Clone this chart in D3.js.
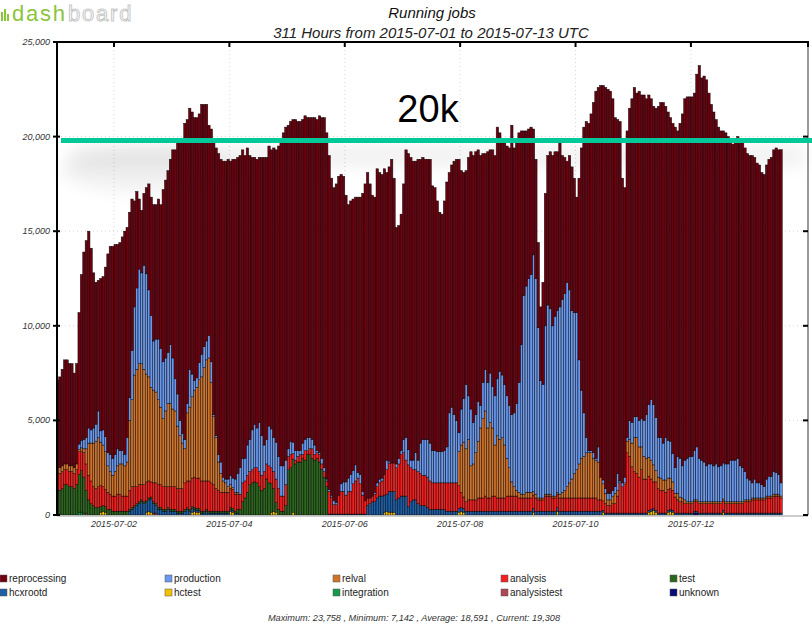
<!DOCTYPE html>
<html>
<head>
<meta charset="utf-8">
<script src="https://cdn.jsdelivr.net/npm/d3@7"></script>
<style>
  body { margin: 0; background: #fff; }
  svg text { font-family: "Liberation Sans", Arial, sans-serif; }
</style>
</head>
<body>
<div id="chart"></div>
<script>
// hourly bins, first bin = 2015-07-01 00:00 UTC
const firstHour = Date.UTC(2015, 6, 1);
const dateTicks = ["2015-07-02", "2015-07-04", "2015-07-06", "2015-07-08", "2015-07-10", "2015-07-12"];
const yTicks = [0, 5000, 10000, 15000, 20000, 25000];

// top of each stacked bar (all job types)
const totalJobs = [
  7142,7300,7700,8200,8200,8000,8000,7500,8000,10700,
  12700,13900,14500,15000,14100,12800,12300,12400,12500,12600,
  13100,13800,14200,14200,14300,14300,14400,14700,15000,15200,
  16000,16700,16600,17100,16700,16100,17000,17300,17500,16800,
  16400,16400,16700,16400,17200,17700,18200,18800,19300,19300,
  19700,19800,19900,20700,20900,21500,21300,21000,21000,21200,
  21700,21700,21700,20600,20400,19700,19400,19100,18800,18700,
  18700,18800,18700,18800,18800,18900,19000,19300,19000,19400,
  19000,18900,18900,18800,18900,18900,18900,18900,19500,19300,
  19400,19300,19500,19700,20200,20500,20600,20800,20900,20900,
  20800,20800,20900,21100,21000,21000,21000,21000,20900,21100,
  21000,21000,20200,19000,17800,17300,17500,17900,18000,17900,
  16900,16400,16600,16700,16800,16800,16800,17000,17500,18100,
  17500,16900,16800,18300,18100,18000,18300,18100,18400,18800,
  17800,15200,15300,15900,17500,19300,19100,18900,18700,18700,
  18800,18800,18900,18800,18800,18800,17400,17300,16600,16000,
  15900,16600,17600,18100,18500,18700,18800,18800,18200,18100,
  18200,18900,19200,19000,19200,19300,19000,19100,19100,19200,
  19300,19300,19000,20500,20200,19800,19700,19500,19400,20600,
  19400,19700,20200,20300,20300,20300,20400,20500,20400,18800,
  14400,11000,12300,17000,19000,19200,19000,19200,19200,19700,
  19000,18900,18700,19000,18400,17800,16800,17800,19400,20500,
  20800,20700,21200,21800,22400,22600,22700,22700,22600,22500,
  22400,22000,21000,20900,20800,17800,17300,20300,21500,22000,
  22600,22300,22400,22200,22200,22000,22200,22000,21600,21500,
  21600,21800,21800,21600,21300,21000,20700,20500,20300,20700,
  21200,22000,22100,22100,22100,22300,23300,23758,23100,23200,
  23000,22300,21700,21300,20900,20500,20300,20300,20200,20000,
  19900,19600,19900,20000,19700,19700,19400,19100,19000,19000,
  18900,18600,18500,18100,18000,18500,18800,18900,19300,19400,
  19300,19308
];

const production = [
  0,0,0,0,0,0,0,0,0,300,
  400,500,600,800,700,800,900,1400,600,800,
  800,700,900,900,900,900,700,700,600,1300,
  1200,2600,3600,4300,5000,4800,5500,5300,4600,3800,
  2600,2800,3200,3100,3000,2800,2700,3100,2700,1700,
  1700,800,500,500,500,2000,1200,500,500,900,
  1200,1100,1000,1200,1100,100,100,400,600,200,
  200,400,500,500,700,1000,1400,1300,1200,1600,
  1700,2100,2300,2100,2600,2100,1400,1300,2100,2050,
  1800,1950,1700,1600,1600,1300,400,700,600,500,
  300,200,600,600,700,600,500,500,100,100,
  300,200,100,100,100,200,100,0,400,500,
  700,700,900,700,850,300,500,200,0,0,
  0,0,100,200,200,150,0,500,100,0,
  0,200,300,200,700,1200,800,400,500,900,
  600,1600,1900,1900,2000,2000,1700,1700,1650,1650,
  1650,1700,1900,3700,4000,3600,3300,1000,1900,2300,
  3400,2300,3000,2200,2000,2100,1200,1900,2200,2400,
  2600,2200,2600,3000,3600,3300,3200,3300,3300,3550,
  3900,4600,5800,7900,10500,10900,11300,11500,12500,11400,
  9000,6200,6000,8900,10000,9800,9000,9500,9600,9900,
  10200,10400,10800,10200,8900,8500,8300,5500,3600,2300,
  800,100,100,300,100,800,0,200,250,350,
  350,300,350,900,100,200,300,200,1000,1100,
  1100,1100,1400,1500,1900,2300,2800,3200,3200,2800,
  2100,2150,1950,2250,2000,1950,1500,1350,1950,2050,
  1700,2100,2300,2400,2400,2600,2800,2300,2200,2100,
  1900,2000,2000,1900,2000,1850,1900,1900,2000,2000,
  2200,2200,2200,2300,1900,1800,1500,1150,1050,800,
  1000,800,800,700,600,900,1050,1050,1200,1150,
  1050,700
];

const relval = [
  300,300,300,300,300,300,300,300,300,100,
  200,200,800,1700,2000,2300,2500,2600,2300,2200,
  2000,1400,1200,1100,1300,1500,1600,1700,1600,1800,
  3700,4600,5900,6200,6400,6400,6100,5700,5500,5000,
  4900,4800,4500,4100,3600,4000,4400,4400,4100,4000,
  3300,2800,2400,1800,3600,3900,4300,4600,4800,5200,
  5500,6000,6400,6500,5300,3600,2700,1500,1000,600,
  500,300,200,100,100,100,0,0,0,0,
  0,0,0,0,0,0,0,0,0,0,
  0,0,0,0,0,0,0,0,0,0,
  0,0,0,0,0,0,0,0,0,0,
  0,0,0,0,0,0,0,0,0,0,
  0,0,0,0,0,0,0,0,0,0,
  0,0,0,0,0,0,0,0,0,0,
  0,0,0,0,0,0,0,0,0,0,
  0,0,0,0,0,0,0,0,0,0,
  0,0,0,0,0,0,0,1800,2500,2900,
  2800,3200,1800,1900,2500,3000,3700,4200,4500,3700,
  4000,3600,2700,3300,3100,3200,2800,2000,1500,750,
  500,300,300,200,200,300,300,300,200,200,
  100,100,100,100,100,100,100,100,100,200,
  300,400,600,800,1000,1300,1500,1800,2100,2200,
  2400,2400,2400,2100,2000,2000,1200,900,550,300,
  300,400,550,300,0,0,100,600,900,1250,
  1800,1900,1600,1200,1200,1100,1000,1000,900,600,
  600,650,550,650,600,550,450,200,350,250,
  200,200,100,100,100,100,100,100,100,100,
  100,100,100,100,100,100,100,100,100,100,
  100,100,100,100,100,100,100,100,100,100,
  100,100,100,100,100,100,100,100,100,100,
  100,100
];

const analysis = [
  1000,900,900,800,800,800,800,800,800,1200,
  1000,1300,1400,1300,1200,1000,1000,1100,1100,1000,
  900,900,800,800,800,900,900,800,800,800,
  1000,1100,1000,900,900,800,900,1000,900,800,
  1000,1100,1200,1200,1200,1200,1100,1200,1200,1200,
  1200,1200,1200,1400,1400,1500,1500,1600,1600,1600,
  1600,1600,1500,1600,1500,1400,1200,1100,1000,1000,
  1000,1000,1000,1000,900,800,800,1000,900,900,
  700,700,750,800,800,800,900,800,900,850,
  900,1250,1100,800,800,1100,700,700,300,200,
  300,400,200,500,200,300,500,300,300,400,
  300,300,300,1200,900,500,500,1000,1200,1200,
  1000,1200,1200,1600,1750,1900,1600,1000,700,400,
  300,300,400,600,700,800,1100,1300,1500,1500,
  1500,1700,1800,2200,2300,1900,2200,1800,1600,1600,
  1700,1700,1600,1600,1600,1500,1400,1400,1400,1400,
  1400,1400,1500,1500,1500,1500,1500,1200,800,600,
  500,600,600,600,600,700,700,700,800,700,
  700,800,800,700,700,700,700,800,800,800,
  800,800,700,700,700,700,700,700,700,700,
  600,600,600,800,800,800,700,700,700,700,
  700,700,700,700,700,700,700,700,700,700,
  700,700,700,700,700,600,600,500,500,400,
  400,500,500,900,1600,1400,1500,3200,3000,2450,
  2200,2100,1900,2300,1800,1800,1800,1600,1400,1500,
  1300,1200,1200,1100,1100,1100,1050,850,700,600,
  600,500,500,500,500,500,500,500,500,500,
  500,500,500,500,500,500,500,500,500,500,
  500,500,500,500,500,500,600,600,600,700,
  700,700,700,700,700,800,800,800,900,900,
  900,800
];

// test jobs only ran in the first 113 hours
const test = [
  1300,1300,1400,1600,1600,1500,1500,1400,1600,2000,
  2200,1900,1200,800,600,500,400,400,300,300,
  300,300,300,200,200,200,200,200,200,200,
  100,100,100,100,100,100,100,100,100,100,
  100,100,100,100,100,100,100,100,100,100,
  100,100,100,100,100,100,100,100,100,100,
  100,100,100,100,100,100,100,100,100,100,
  100,100,100,100,100,200,300,700,900,1200,
  1600,1700,1750,1700,1500,1300,1400,1900,1700,1500,
  1200,500,300,200,200,500,2400,2500,2800,2700,
  2800,2800,3000,2900,3200,3200,3000,2900,3000,2800,
  2400,2000,1500
];

const hcxrootd = [
  0,0,0,0,0,0,0,0,0,0,
  0,0,0,0,0,0,0,0,0,0,
  0,0,0,0,0,0,0,0,0,0,
  200,300,400,500,600,700,600,500,600,700,
  500,400,300,300,200,200,300,200,200,200,
  100,100,100,200,300,200,200,100,100,100,
  100,100,200,100,100,100,100,100,100,100,
  100,100,100,100,100,100,0,0,0,0,
  0,0,0,0,0,0,0,0,0,0,
  0,0,0,0,0,0,0,0,0,0,
  0,0,0,0,0,0,0,0,0,0,
  0,0,0,50,50,50,50,50,50,50,
  50,50,50,50,50,50,50,50,50,500,
  600,700,700,900,1000,1000,900,900,1100,1100,
  1100,800,900,1000,1000,1000,450,700,800,800,
  600,500,500,500,400,300,300,300,300,300,
  300,300,200,200,200,200,200,200,200,200,
  200,200,200,200,200,200,200,200,200,200,
  200,200,200,200,200,200,200,200,200,200,
  200,200,200,200,200,200,200,200,200,200,
  200,200,200,200,200,200,200,200,200,200,
  200,200,200,200,200,200,200,200,200,200,
  200,200,200,200,200,200,200,100,100,100,
  100,100,100,100,100,100,100,100,100,100,
  100,100,100,100,100,100,100,100,100,100,
  100,100,100,100,100,100,100,100,100,100,
  100,100,100,100,100,100,100,100,100,100,
  100,100,100,100,100,100,100,100,100,100,
  100,100,100,100,100,100,100,100,100,100,
  100,100,100,100,100,100,100,100,100,100,
  100,100
];

// small series: [hour index, jobs]
const hctest = [[18,150],[19,200],[20,150],[37,150],[38,200],[39,150],[56,150],[57,200],[58,150],
  [59,150],[72,200],[73,150],[89,150],[90,200],[91,150],[98,150],[136,150],[137,200],[138,150],
  [139,150],[140,150],[167,150],[168,200],[169,150],[198,150],[208,200],[227,150],[246,150],
  [247,200],[248,250],[249,150],[254,150],[255,200],[256,150],[277,150]];
const integration = [[9,150],[10,150],[11,100]];
const analysistest = [[12,100],[40,100],[41,100]];
const unknown = [[265,100],[266,100]];

const legendItems = [
  { key: "reprocessing", color: "#6e000f" },
  { key: "production", color: "#6a98ec" },
  { key: "relval", color: "#d0742c" },
  { key: "analysis", color: "#f42020" },
  { key: "test", color: "#2c661e" },
  { key: "hcxrootd", color: "#1c5ea8" },
  { key: "hctest", color: "#f2c200" },
  { key: "integration", color: "#17994a" },
  { key: "analysistest", color: "#b04458" },
  { key: "unknown", color: "#0a0a78" }
];
const summaryText = "Maximum: 23,758 , Minimum: 7,142 , Average: 18,591 , Current: 19,308";

const width = 812, height = 628;
const plot = { left: 57, right: 808, top: 42, bottom: 515 };

function spikes(list) {
  const m = new Map(list);
  return (i) => m.get(i) || 0;
}

// build one row per hour
const hcT = spikes(hctest), intT = spikes(integration), atT = spikes(analysistest), unT = spikes(unknown);
const rows = totalJobs.map((tot, i) => {
  const r = {
    hour: i,
    unknown: unT(i),
    analysistest: atT(i),
    integration: intT(i),
    hctest: hcT(i),
    hcxrootd: hcxrootd[i] || 0,
    test: test[i] || 0,
    analysis: analysis[i] || 0,
    relval: relval[i] || 0,
    production: production[i] || 0
  };
  const others = r.unknown + r.analysistest + r.integration + r.hctest + r.hcxrootd +
    r.test + r.analysis + r.relval + r.production;
  r.reprocessing = Math.max(0, tot - others);
  return r;
});

const stackKeys = legendItems.map(d => d.key).reverse();
const colorOf = Object.fromEntries(legendItems.map(d => [d.key, d.color]));
const series = d3.stack().keys(stackKeys)(rows);

const svg = d3.select("#chart").append("svg")
  .attr("width", width).attr("height", height);

const x = d3.scaleUtc()
  .domain([new Date(firstHour), new Date(Date.UTC(2015, 6, 14))])
  .range([56.3, 806.3]);
const y = d3.scaleLinear().domain([0, 25000]).range([plot.bottom, plot.top]);
const hourX = (i) => x(new Date(firstHour + i * 3600e3));

// logo
const logo = svg.append("g");
[[1, 9], [4, 12], [7, 7]].forEach(([lx, lh]) => {
  logo.append("rect").attr("x", lx).attr("y", 21 - lh).attr("width", 2).attr("height", lh).attr("fill", "#8cc43c");
});
const dash = logo.append("text").attr("x", 12).attr("y", 21)
  .style("font-size", "22px").style("letter-spacing", "1.8px")
  .attr("fill", "#8cc43c").text("dash");
logo.append("text").attr("x", 12 + dash.node().getComputedTextLength() + 1).attr("y", 21)
  .style("font-size", "22px").style("letter-spacing", "1.8px")
  .attr("fill", "#fff").attr("stroke", "#c8c8c8").attr("stroke-width", 1).text("board");

// titles
svg.append("text").attr("x", 432).attr("y", 18).attr("text-anchor", "middle")
  .style("font-style", "italic").style("font-size", "15px")
  .attr("fill", "#111").text("Running jobs");
svg.append("text").attr("x", 431).attr("y", 38).attr("text-anchor", "middle")
  .style("font-style", "italic").style("font-size", "15px")
  .attr("fill", "#222").text("311 Hours from 2015-07-01 to 2015-07-13 UTC");

// grid
const grid = svg.append("g").attr("stroke", "#d8d8d8").attr("stroke-dasharray", "1,3");
yTicks.slice(1, -1).forEach(v => {
  grid.append("line").attr("x1", plot.left).attr("x2", plot.right).attr("y1", y(v)).attr("y2", y(v));
});
dateTicks.forEach(t => {
  const tx = x(new Date(t + "T00:00:00Z"));
  grid.append("line").attr("x1", tx).attr("x2", tx).attr("y1", plot.top).attr("y2", plot.bottom);
});

// soft shadow under the 20k marker (sits behind the bars)
const defs = svg.append("defs");
defs.append("filter").attr("id", "blur").attr("x", "-20%").attr("y", "-100%").attr("width", "140%").attr("height", "300%")
  .append("feGaussianBlur").attr("stdDeviation", 9);
svg.append("rect").attr("x", 70).attr("y", 146).attr("width", 735).attr("height", 20)
  .attr("fill", "#000").attr("opacity", 0.06).attr("filter", "url(#blur)");
svg.append("ellipse").attr("cx", 150).attr("cy", 170).attr("rx", 90).attr("ry", 22)
  .attr("fill", "#000").attr("opacity", 0.06).attr("filter", "url(#blur)");

// stacked bars
svg.append("g").selectAll("g")
  .data(series)
  .join("g")
  .attr("fill", d => colorOf[d.key])
  .selectAll("rect")
  .data(d => d.filter(s => s[1] > s[0]))
  .join("rect")
  .attr("x", d => hourX(d.data.hour))
  .attr("width", d => hourX(d.data.hour + 1) - hourX(d.data.hour))
  .attr("y", d => y(d[1]))
  .attr("height", d => y(d[0]) - y(d[1]))
  .attr("stroke", "#000")
  .attr("stroke-width", 0.55)
  .attr("stroke-opacity", 0.85);

// frame
svg.append("line").attr("x1", plot.left).attr("x2", plot.right).attr("y1", plot.bottom + 1).attr("y2", plot.bottom + 1)
  .attr("stroke", "#bbb").attr("stroke-width", 1.5);
svg.append("line").attr("x1", plot.left).attr("x2", plot.right + 1).attr("y1", plot.top).attr("y2", plot.top)
  .attr("stroke", "#000").attr("stroke-width", 2);
svg.append("line").attr("x1", plot.left).attr("x2", plot.left).attr("y1", plot.top).attr("y2", plot.bottom + 1)
  .attr("stroke", "#000").attr("stroke-width", 2);
svg.append("line").attr("x1", plot.right).attr("x2", plot.right).attr("y1", plot.top).attr("y2", plot.bottom)
  .attr("stroke", "#555").attr("stroke-width", 1.2);

// y axis labels + ticks on both sides
const axisText = svg.append("g")
  .style("font-style", "italic").style("font-size", "9px").attr("fill", "#333");
yTicks.forEach(v => {
  axisText.append("text").attr("x", 50).attr("y", y(v) + 3).attr("text-anchor", "end")
    .text(d3.format(",")(v));
  svg.append("line").attr("x1", plot.left - 4).attr("x2", plot.left + 3).attr("y1", y(v)).attr("y2", y(v))
    .attr("stroke", "#000").attr("stroke-width", 2);
  svg.append("line").attr("x1", plot.right - 5).attr("x2", plot.right).attr("y1", y(v)).attr("y2", y(v))
    .attr("stroke", "#000").attr("stroke-width", 2);
});

// x axis labels + ticks on the top edge
dateTicks.forEach(t => {
  const tx = x(new Date(t + "T00:00:00Z"));
  axisText.append("text").attr("x", tx).attr("y", 527).attr("text-anchor", "middle").text(t);
  svg.append("line").attr("x1", tx).attr("x2", tx).attr("y1", plot.top).attr("y2", plot.top + 5)
    .attr("stroke", "#000").attr("stroke-width", 2);
});
svg.append("line").attr("x1", plot.right).attr("x2", plot.right).attr("y1", plot.top).attr("y2", plot.top + 5)
  .attr("stroke", "#000").attr("stroke-width", 2);

// 20k marker
svg.append("line").attr("x1", 61).attr("x2", 812).attr("y1", y(19800)).attr("y2", y(19800))
  .attr("stroke", "#00c999").attr("stroke-width", 5);
svg.append("text").attr("x", 428).attr("y", 122).attr("text-anchor", "middle")
  .style("font-size", "38px").attr("fill", "#000").text("20k");

// legend
const cols = [0, 165, 333, 501, 670];
const legend = svg.append("g").style("font-size", "10px").attr("fill", "#222");
legendItems.forEach((d, i) => {
  const lx = cols[i % 5], ly = 579 + Math.floor(i / 5) * 14;
  legend.append("rect").attr("x", lx).attr("y", ly - 4).attr("width", 7).attr("height", 7)
    .attr("fill", d.color).attr("stroke", "#555").attr("stroke-width", 0.5);
  legend.append("text").attr("x", lx + 9).attr("y", ly + 3).text(d.key);
});

svg.append("text").attr("x", 414).attr("y", 621).attr("text-anchor", "middle")
  .style("font-style", "italic").style("font-size", "9.2px").attr("fill", "#333")
  .text(summaryText);
</script>
</body>
</html>
